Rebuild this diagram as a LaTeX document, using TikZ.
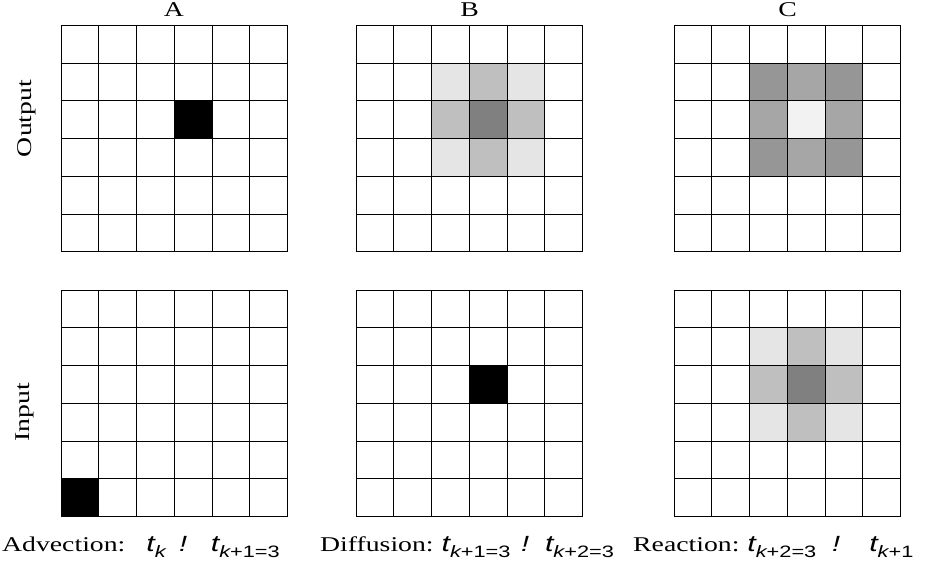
\documentclass[tikz,border=0pt]{standalone}
\usepackage{fontspec}
\setmainfont{Liberation Serif}
\newfontfamily\sansf{Liberation Sans}
\definecolor{gA}{gray}{0.90}
\definecolor{gB}{gray}{0.75}
\definecolor{gC}{gray}{0.50}
\definecolor{gD}{gray}{0.59}
\definecolor{gE}{gray}{0.65}
\definecolor{gF}{gray}{0.95}
\newcommand\cs{37.75}
\newcommand\tvar[1]{{\sansf\itshape\fontsize{23}{23}\selectfont t}\raisebox{-0.3em}{\sansf\fontsize{16.5}{16.5}\selectfont #1}}
\newcommand\bang{{\sansf\itshape\fontsize{22}{22}\selectfont !}}
\newcommand\wide[1]{\scalebox{1.32}[1]{#1}}
\begin{document}
\begin{tikzpicture}[x=1pt,y=-1pt,
  gridline/.style={line width=0.9pt,black},
  lbl/.style={font=\fontsize{21}{21}\selectfont,inner sep=0pt},
  sidelbl/.style={font=\fontsize{21}{21}\selectfont,inner sep=0pt,rotate=90},
  botlbl/.style={font=\fontsize{21}{21}\selectfont,inner sep=0pt,anchor=base west}]
\useasboundingbox[fill=white] (0,0) rectangle (925,560);
% cell fill: #1 x0, #2 y0, #3 col, #4 row, #5 colour
\newcommand\cellf[5]{\fill[#5] ({#1+#3*\cs},{#2+#4*\cs}) rectangle ++(\cs,\cs);}
\newcommand\gridlines[2]{%
  \foreach \i in {0,...,6}{%
    \draw[gridline] ({#1+\i*\cs},#2) -- ({#1+\i*\cs},{#2+6*\cs});
    \draw[gridline] (#1,{#2+\i*\cs}) -- ({#1+6*\cs},{#2+\i*\cs});
  }}
% A output / input
\cellf{61}{25.3}{3}{2}{black}
\cellf{61}{290}{0}{5}{black}
% B output
\foreach \c/\r/\k in {2/1/gA,3/1/gB,4/1/gA,2/2/gB,3/2/gC,4/2/gB,2/3/gA,3/3/gB,4/3/gA}
  {\cellf{356}{25.3}{\c}{\r}{\k}}
% B input
\cellf{356}{290}{3}{2}{black}
% C output
\foreach \c/\r/\k in {2/1/gD,3/1/gE,4/1/gD,2/2/gE,3/2/gF,4/2/gE,2/3/gD,3/3/gE,4/3/gD}
  {\cellf{674}{25.3}{\c}{\r}{\k}}
% C input
\foreach \c/\r/\k in {2/1/gA,3/1/gB,4/1/gA,2/2/gB,3/2/gC,4/2/gB,2/3/gA,3/3/gB,4/3/gA}
  {\cellf{674}{290}{\c}{\r}{\k}}
\gridlines{61}{25.3}
\gridlines{61}{290}
\gridlines{356}{25.3}
\gridlines{356}{290}
\gridlines{674}{25.3}
\gridlines{674}{290}
% labels
\node[lbl] (la) at (174,10) {\wide{A}};
\node[lbl] (lb) at (469.5,10) {\wide{B}};
\node[lbl] (lc) at (787.5,10) {\wide{C}};
\node[sidelbl] (lout) at (27,118.5) {\wide{Output}};
\node[sidelbl] (lin) at (25,412.5) {\wide{Input}};
\node[botlbl] (adv) at (2,551) {\wide{Advection:\hspace{16pt}\tvar{\itshape k}\hspace{10pt}\bang\hspace{18pt}\tvar{{\itshape k}+1=3}}};
\node[botlbl] (dif) at (320,551) {\wide{Diffusion:\hspace{6pt}\tvar{{\itshape k}+1=3}\hspace{8pt}\bang\hspace{12pt}\tvar{{\itshape k}+2=3}}};
\node[botlbl] (rea) at (633,551) {\wide{Reaction:\hspace{6pt}\tvar{{\itshape k}+2=3}\hspace{12pt}\bang\hspace{22pt}\tvar{{\itshape k}+1}}};
\end{tikzpicture}
\end{document}
